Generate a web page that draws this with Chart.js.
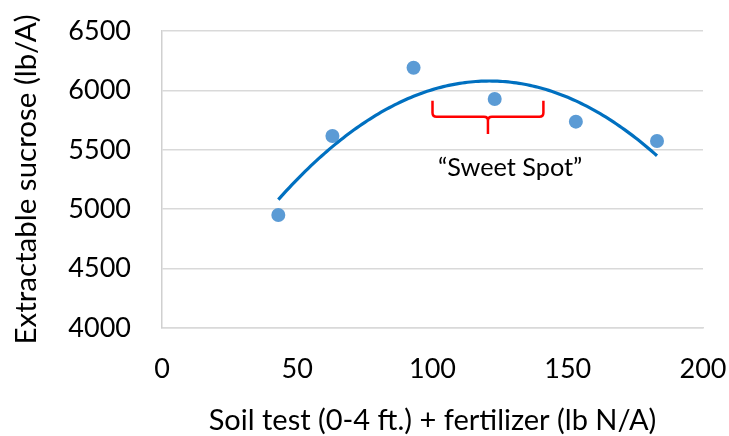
<!DOCTYPE html>
<html>
<head>
<meta charset="utf-8">
<script src="https://cdn.jsdelivr.net/npm/chart.js@4.4.1/dist/chart.umd.min.js"></script>
<style>
  html, body { margin: 0; padding: 0; background: #ffffff; }
  canvas { display: block; }
</style>
</head>
<body>
<canvas id="chart" width="729" height="436"></canvas>
<script>
// ---- Data ----
const nitrogen = [43, 63, 93, 123, 153, 183];          // lb N/A
const sucrose  = [4951, 5616, 6191, 5928, 5737, 5574];  // lb/A
const xTickValues = [0, 50, 100, 150, 200];
const yTickValues = [4000, 4500, 5000, 5500, 6000, 6500];
const xTitle = 'Soil test (0-4 ft.) + fertilizer (lb N/A)';
const yTitle = 'Extractable sucrose (lb/A)';
// annotation: bracket spanning x range, with top / bar / tip levels (data units)
const bracketX = [100, 141];
const bracketY = [5913, 5779, 5633];
const noteText = '\u201CSweet Spot\u201D';
const notePos = [128.7, 5351];

// ---- least-squares quadratic trendline (as the spreadsheet does) ----
function polyFit2(xs, ys) {
  const n = xs.length;
  let s = [0,0,0,0,0], t = [0,0,0];
  for (let i = 0; i < n; i++) {
    const x = xs[i], y = ys[i];
    let p = 1;
    for (let k = 0; k <= 4; k++) { s[k] += p; if (k <= 2) t[k] += p * y; p *= x; }
  }
  const A = [[s[0], s[1], s[2], t[0]], [s[1], s[2], s[3], t[1]], [s[2], s[3], s[4], t[2]]];
  for (let c = 0; c < 3; c++) {
    let piv = c;
    for (let r = c + 1; r < 3; r++) if (Math.abs(A[r][c]) > Math.abs(A[piv][c])) piv = r;
    [A[c], A[piv]] = [A[piv], A[c]];
    for (let r = 0; r < 3; r++) {
      if (r === c) continue;
      const f = A[r][c] / A[c][c];
      for (let k = c; k < 4; k++) A[r][k] -= f * A[c][k];
    }
  }
  return [A[0][3] / A[0][0], A[1][3] / A[1][1], A[2][3] / A[2][2]];
}
const coef = polyFit2(nitrogen, sucrose);

const FONT = 'Lato, "Open Sans", sans-serif';
const TEXT = '#000000';

const overlayPlugin = {
  id: 'overlay',
  afterDatasetsDraw(chart) {
    const ctx = chart.ctx;
    const xs = chart.scales.x, ys = chart.scales.y;
    const X = v => xs.getPixelForValue(v);
    const Y = v => ys.getPixelForValue(v);
    ctx.save();
    // trendline
    const x0 = Math.min(...nitrogen), x1 = Math.max(...nitrogen);
    ctx.beginPath();
    const steps = 140;
    for (let i = 0; i <= steps; i++) {
      const xv = x0 + (x1 - x0) * i / steps;
      const yv = coef[0] + coef[1] * xv + coef[2] * xv * xv;
      if (i === 0) ctx.moveTo(X(xv), Y(yv)); else ctx.lineTo(X(xv), Y(yv));
    }
    ctx.strokeStyle = '#0070C0';
    ctx.lineWidth = 3.2;
    ctx.lineJoin = 'round';
    ctx.stroke();

    // bracket
    const bl = X(bracketX[0]), br = X(bracketX[1]), bc = (bl + br) / 2;
    const yt = Y(bracketY[0]), ym = Y(bracketY[1]), yp = Y(bracketY[2]);
    const r = 4;
    ctx.beginPath();
    ctx.moveTo(bl, yt);
    ctx.lineTo(bl, ym - r);
    ctx.quadraticCurveTo(bl, ym, bl + r, ym);
    ctx.lineTo(bc - r, ym);
    ctx.quadraticCurveTo(bc, ym, bc, ym + r);
    ctx.lineTo(bc, yp);
    ctx.moveTo(br, yt);
    ctx.lineTo(br, ym - r);
    ctx.quadraticCurveTo(br, ym, br - r, ym);
    ctx.lineTo(bc + r, ym);
    ctx.quadraticCurveTo(bc, ym, bc, ym + r);
    ctx.strokeStyle = '#FF0000';
    ctx.lineWidth = 2.5;
    ctx.stroke();

    // note
    ctx.fillStyle = TEXT;
    ctx.font = '25.3px ' + FONT;
    ctx.textAlign = 'center';
    ctx.textBaseline = 'middle';
    ctx.fillText(noteText, X(notePos[0]), Y(notePos[1]));
    ctx.restore();
  }
};

new Chart(document.getElementById('chart'), {
  type: 'scatter',
  data: {
    datasets: [{
      data: nitrogen.map((x, i) => ({ x: x, y: sucrose[i] })),
      backgroundColor: '#5B9BD5',
      borderColor: '#5B9BD5',
      borderWidth: 0,
      pointRadius: 7,
      pointHoverRadius: 7
    }]
  },
  options: {
    responsive: false,
    devicePixelRatio: 1,
    animation: false,
    layout: { padding: { top: 31, right: 26, left: 0, bottom: 0 } },
    plugins: { legend: { display: false }, tooltip: { enabled: false } },
    scales: {
      x: {
        type: 'linear',
        min: 0, max: 200,
        afterBuildTicks: s => { s.ticks = xTickValues.map(v => ({ value: v })); },
        afterFit: s => { s.height = 108; },
        grid: { display: false, drawTicks: true, tickLength: 25 },
        border: { display: true, color: '#d9d9d9', width: 1.5 },
        ticks: { padding: 0, color: TEXT, font: { family: FONT, size: 27 }, maxRotation: 0,
                 callback: v => String(v) },
        title: { display: true, text: xTitle, color: TEXT, font: { family: FONT, size: 29, lineHeight: 1.0 }, padding: { top: 0, bottom: 1 } }
      },
      y: {
        type: 'linear',
        min: 4000, max: 6500,
        afterBuildTicks: s => { s.ticks = yTickValues.map(v => ({ value: v })); },
        afterFit: s => { s.width = 162; },
        grid: { color: '#d9d9d9', lineWidth: 1.5, drawTicks: true, tickLength: 31, tickColor: 'rgba(0,0,0,0)' },
        border: { display: true, color: '#d0d0d0', width: 1.5 },
        ticks: { padding: 0, color: TEXT, font: { family: FONT, size: 27 },
                 callback: v => String(v) },
        title: { display: true, text: yTitle, color: TEXT, font: { family: FONT, size: 29.5, lineHeight: 1.2 }, padding: { top: 8.5, bottom: 0 } }
      }
    }
  },
  plugins: [overlayPlugin]
});
</script>
</body>
</html>
